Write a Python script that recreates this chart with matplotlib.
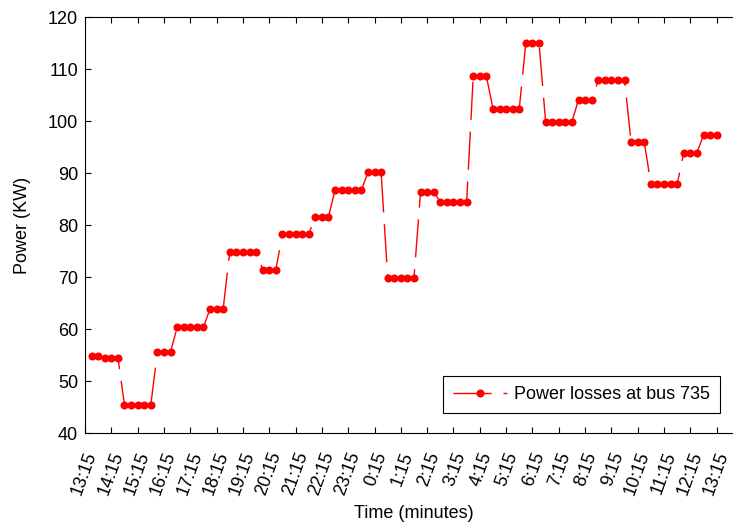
import matplotlib
matplotlib.use("Agg")
import matplotlib.pyplot as plt

plt.rcParams["font.family"] = ["Liberation Sans", "DejaVu Sans"]
plt.rcParams["font.size"] = 13

# 15-minute samples, one day starting at 13:15
sample_index = list(range(1, 97))
power_kw = (
    [54.8, 54.8, 54.5, 54.5, 54.5]
    + [45.4] * 5 + [55.6] * 3 + [60.3] * 5 + [63.9] * 3
    + [74.9] * 5 + [71.4] * 3 + [78.2] * 5 + [81.6] * 3
    + [86.7] * 5 + [90.1] * 3 + [69.9] * 5 + [86.4] * 3
    + [84.4] * 5 + [108.6] * 3 + [102.4] * 5 + [115.0] * 3
    + [99.9] * 5 + [104.1] * 3 + [107.8] * 5 + [95.9] * 3
    + [87.9] * 5 + [93.9] * 3 + [97.3] * 3
)
hour_ticks = list(range(0, 97, 4))
hour_labels = ["%d:15" % ((13 + i) % 24) for i in range(25)]

fig = plt.figure(figsize=(7.33, 5.27), dpi=100)
# axes runs slightly past the right edge of the canvas
ax = fig.add_axes([85 / 733, 94 / 527, 658 / 733, 416 / 527])

ax.plot(sample_index, power_kw, color="red", linewidth=1.0,
        linestyle=(0, (27.5, 8.5)), marker="o", markersize=5.8,
        markeredgewidth=0, label="Power losses at bus 735")

ax.set_xlim(0, 100)
ax.set_ylim(40, 120)
ax.set_yticks(range(40, 121, 10))

# tick marks on the hour grid, rotated labels sit a little to the right
ax.set_xticks(hour_ticks)
ax.set_xticklabels([])
ax.set_xticks([t + 1.1 for t in hour_ticks], minor=True)
ax.set_xticklabels(hour_labels, minor=True, rotation=70, ha="right",
                   va="center", rotation_mode="anchor")
ax.tick_params(axis="x", which="minor", length=0, pad=14)

ax.tick_params(which="major", direction="in", length=4.5, width=0.8,
               top=True, right=True, color="black")
ax.tick_params(axis="y", pad=5)
for sp in ax.spines.values():
    sp.set_linewidth(0.8)

ax.set_xlabel("Time (minutes)", labelpad=5)
ax.set_ylabel("Power (KW)", labelpad=12)

leg = ax.legend(loc="lower right", bbox_to_anchor=(720 / 733, 114 / 527),
                bbox_transform=fig.transFigure, borderaxespad=0,
                fancybox=False, edgecolor="black", framealpha=1,
                handlelength=3.0, borderpad=0.55, handletextpad=0.4)
leg.get_frame().set_linewidth(0.8)

fig.savefig("out.png", dpi=100)
